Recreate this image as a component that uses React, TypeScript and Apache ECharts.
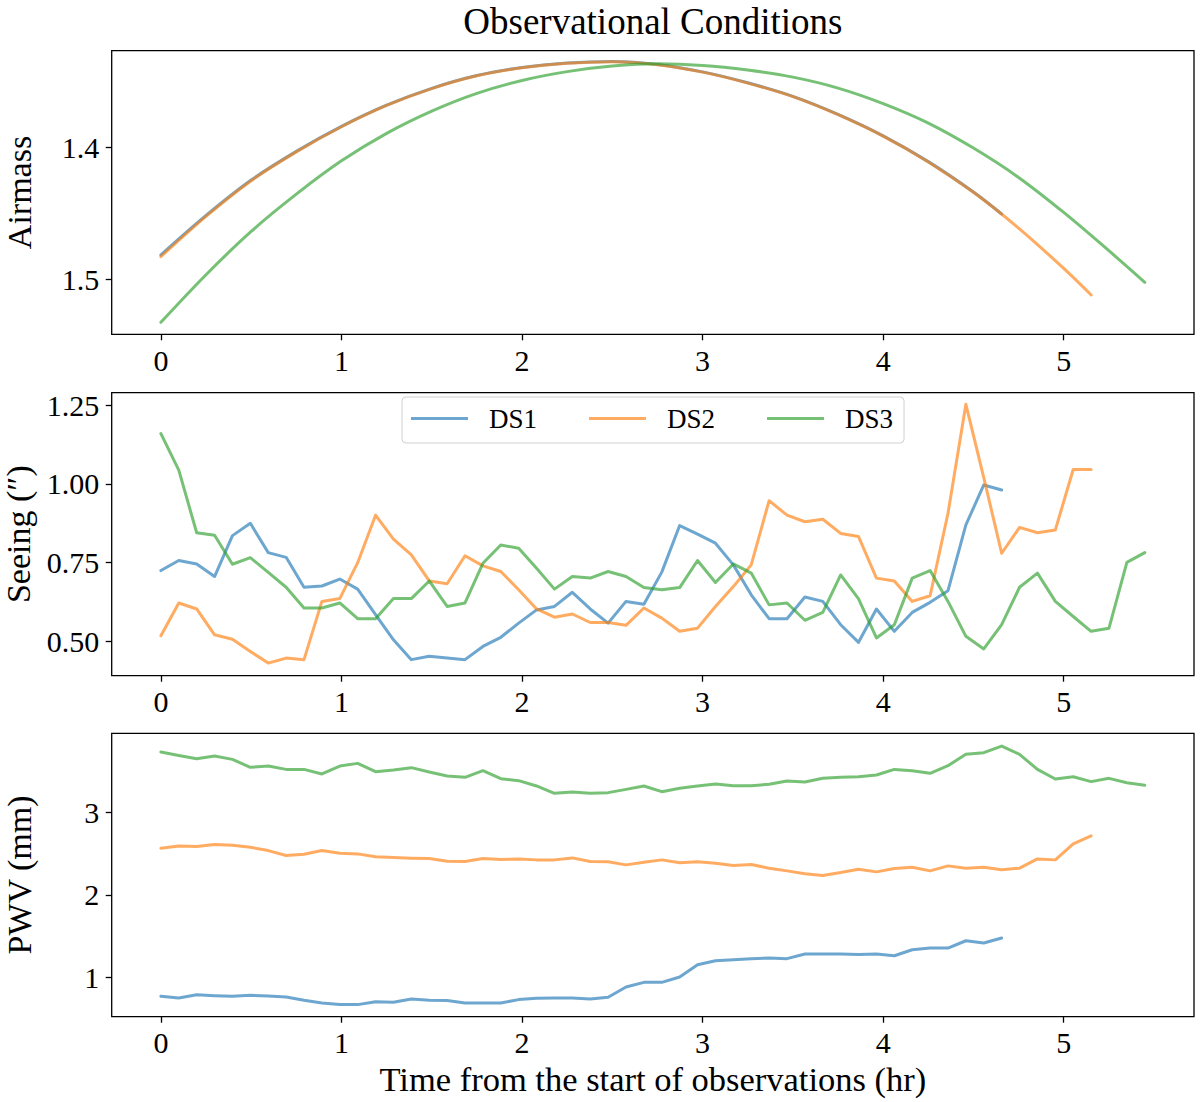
import React, { useEffect, useRef } from "react";
import * as echarts from "echarts";

// ---------- data ----------
const CADENCE_HR = 0.09907; // time between exposures (hr)
const SERIES_NAMES = ["DS1", "DS2", "DS3"];
const TITLE = "Observational Conditions";
const X_LABEL = "Time from the start of observations (hr)";
const Y_LABELS = ["Airmass", "Seeing (\u2033)", "PWV (mm)"];
const X_TICKS = [0, 1, 2, 3, 4, 5];
const AIRMASS_TICKS = [1.4, 1.5];
const SEEING_TICKS = [0.5, 0.75, 1.0, 1.25];
const PWV_TICKS = [1, 2, 3];

const airmassTimesDS1 = [0, 0.25, 0.5, 0.75, 1, 1.25, 1.5, 1.75, 2, 2.25, 2.5, 2.75, 3, 3.25, 3.5, 3.75, 4, 4.25, 4.5, 4.656];
const airmassDS1 = [1.4815, 1.4515, 1.4246, 1.4028, 1.3838, 1.3677, 1.3549, 1.3452, 1.3391, 1.3357, 1.3345, 1.3367, 1.3424, 1.3507, 1.361, 1.3747, 1.391, 1.4106, 1.4337, 1.4504];
const airmassTimesDS2 = [0, 0.25, 0.5, 0.75, 1, 1.25, 1.5, 1.75, 2, 2.25, 2.5, 2.75, 3, 3.25, 3.5, 3.75, 4, 4.25, 4.5, 4.75, 5, 5.152];
const airmassDS2 = [1.4828, 1.4522, 1.4251, 1.4032, 1.3841, 1.3679, 1.3551, 1.3454, 1.3393, 1.3359, 1.3347, 1.3369, 1.3426, 1.3509, 1.3612, 1.3749, 1.3912, 1.4108, 1.4339, 1.4611, 1.4917, 1.5119];
const airmassTimesDS3 = [0, 0.25, 0.5, 0.75, 1, 1.25, 1.5, 1.75, 2, 2.25, 2.5, 2.75, 3, 3.25, 3.5, 3.75, 4, 4.25, 4.5, 4.75, 5, 5.25, 5.449];
const airmassDS3 = [1.5327, 1.4965, 1.4636, 1.4353, 1.41, 1.3891, 1.3722, 1.3587, 1.3489, 1.3422, 1.338, 1.3363, 1.3375, 1.341, 1.3464, 1.3547, 1.3665, 1.3813, 1.4003, 1.4226, 1.4492, 1.4783, 1.5023];

const seeingDS1 = [0.725, 0.757, 0.746, 0.706, 0.836, 0.875, 0.782, 0.767, 0.672, 0.676, 0.698, 0.666, 0.585, 0.505, 0.442, 0.453, 0.447, 0.442, 0.484, 0.513, 0.558, 0.6, 0.611, 0.656, 0.603, 0.558, 0.627, 0.618, 0.72, 0.868, 0.841, 0.812, 0.743, 0.648, 0.572, 0.572, 0.641, 0.627, 0.553, 0.497, 0.603, 0.532, 0.592, 0.624, 0.661, 0.87, 0.997, 0.981];
const seeingDS2 = [0.518, 0.622, 0.603, 0.521, 0.507, 0.468, 0.431, 0.447, 0.442, 0.627, 0.636, 0.75, 0.901, 0.825, 0.775, 0.692, 0.683, 0.772, 0.74, 0.722, 0.664, 0.603, 0.577, 0.587, 0.56, 0.56, 0.551, 0.606, 0.574, 0.532, 0.542, 0.611, 0.674, 0.743, 0.947, 0.901, 0.88, 0.888, 0.843, 0.833, 0.701, 0.692, 0.627, 0.645, 0.907, 1.253, 1.02, 0.78, 0.862, 0.845, 0.854, 1.046, 1.046];
const seeingDS3 = [1.16, 1.044, 0.845, 0.837, 0.745, 0.766, 0.719, 0.672, 0.606, 0.606, 0.622, 0.572, 0.572, 0.636, 0.636, 0.692, 0.611, 0.622, 0.748, 0.806, 0.796, 0.732, 0.666, 0.706, 0.701, 0.722, 0.706, 0.671, 0.664, 0.671, 0.757, 0.687, 0.746, 0.717, 0.616, 0.622, 0.567, 0.592, 0.711, 0.635, 0.511, 0.553, 0.701, 0.725, 0.627, 0.516, 0.476, 0.553, 0.672, 0.717, 0.627, 0.579, 0.532, 0.542, 0.751, 0.782];

const pwvDS1 = [0.765, 0.745, 0.785, 0.773, 0.765, 0.777, 0.769, 0.757, 0.717, 0.684, 0.664, 0.664, 0.7, 0.692, 0.733, 0.717, 0.713, 0.684, 0.684, 0.684, 0.725, 0.741, 0.745, 0.745, 0.733, 0.753, 0.879, 0.935, 0.935, 1.0, 1.15, 1.198, 1.211, 1.223, 1.231, 1.223, 1.279, 1.279, 1.279, 1.275, 1.279, 1.259, 1.332, 1.352, 1.352, 1.441, 1.413, 1.474];
const pwvDS2 = [2.567, 2.595, 2.587, 2.611, 2.603, 2.579, 2.538, 2.478, 2.494, 2.538, 2.506, 2.498, 2.462, 2.453, 2.445, 2.441, 2.409, 2.405, 2.441, 2.429, 2.437, 2.425, 2.425, 2.449, 2.405, 2.401, 2.364, 2.397, 2.425, 2.389, 2.401, 2.385, 2.356, 2.368, 2.324, 2.291, 2.255, 2.235, 2.271, 2.312, 2.279, 2.32, 2.336, 2.291, 2.352, 2.324, 2.336, 2.304, 2.324, 2.437, 2.425, 2.619, 2.717];
const pwvDS3 = [3.737, 3.696, 3.656, 3.688, 3.648, 3.551, 3.567, 3.526, 3.526, 3.47, 3.567, 3.599, 3.498, 3.518, 3.547, 3.494, 3.445, 3.429, 3.51, 3.413, 3.389, 3.324, 3.235, 3.251, 3.235, 3.243, 3.283, 3.324, 3.255, 3.296, 3.324, 3.348, 3.328, 3.328, 3.344, 3.385, 3.372, 3.417, 3.429, 3.437, 3.457, 3.526, 3.51, 3.478, 3.571, 3.709, 3.729, 3.81, 3.709, 3.526, 3.409, 3.437, 3.377, 3.417, 3.364, 3.332];

// ---------- styling ----------
const COLORS = ["rgba(31,119,180,0.65)", "rgba(255,127,14,0.65)", "rgba(44,160,44,0.65)"];
const FONT = "'Liberation Serif', 'Times New Roman', 'DejaVu Serif', serif";
const GRID_LEFT = 111.7;
const GRID_WIDTH = 1082.3;
const GRIDS = [
  { top: 50.7, height: 283.6 },
  { top: 392.7, height: 283.0 },
  { top: 733.3, height: 283.4 },
];
const X_MIN = -0.2725;
const X_MAX = 5.7215;
const Y_RANGES = [
  { min: 1.3263, max: 1.5418, inverse: true, ticks: AIRMASS_TICKS, digits: 1 },
  { min: 0.391, max: 1.29, inverse: false, ticks: SEEING_TICKS, digits: 2 },
  { min: 0.517, max: 3.965, inverse: false, ticks: PWV_TICKS, digits: 0 },
];

const pairs = (t: number[], v: number[]) => v.map((y, i) => [t[i], y]);
const sampled = (v: number[]) => v.map((y, i) => [i * CADENCE_HR, y]);

function buildOption() {
  const panelData = [
    [pairs(airmassTimesDS1, airmassDS1), pairs(airmassTimesDS2, airmassDS2), pairs(airmassTimesDS3, airmassDS3)],
    [sampled(seeingDS1), sampled(seeingDS2), sampled(seeingDS3)],
    [sampled(pwvDS1), sampled(pwvDS2), sampled(pwvDS3)],
  ];

  const tickStyle = { color: "#000", width: 1.3 };

  const grid = GRIDS.map((g) => ({
    left: GRID_LEFT,
    width: GRID_WIDTH,
    top: g.top,
    height: g.height,
    show: true,
    borderColor: "#000",
    borderWidth: 1.3,
    backgroundColor: "transparent",
    containLabel: false,
    outerBoundsMode: "none",
  }));

  const xAxis = GRIDS.map((_, i) => ({
    type: "value",
    gridIndex: i,
    min: X_MIN,
    max: X_MAX,
    position: "bottom",
    axisLine: { show: false, onZero: false },
    splitLine: { show: false },
    axisTick: { show: true, customValues: X_TICKS, length: 6, inside: false, lineStyle: tickStyle },
    axisLabel: {
      show: true,
      customValues: X_TICKS,
      margin: 11,
      fontSize: 30,
      fontFamily: FONT,
      color: "#000",
      formatter: (v: number) => String(v),
    },
    name: i === 2 ? X_LABEL : "",
    nameLocation: "middle",
    nameGap: 45,
    nameTextStyle: { fontSize: 34.5, fontFamily: FONT, color: "#000" },
  }));

  const yAxis = Y_RANGES.map((r, i) => ({
    type: "value",
    gridIndex: i,
    min: r.min,
    max: r.max,
    inverse: r.inverse,
    position: "left",
    axisLine: { show: false, onZero: false },
    splitLine: { show: false },
    axisTick: { show: true, customValues: r.ticks, length: 6, inside: false, lineStyle: tickStyle },
    axisLabel: {
      show: true,
      customValues: r.ticks,
      margin: 12.4,
      fontSize: 30,
      fontFamily: FONT,
      color: "#000",
      formatter: (v: number) => v.toFixed(r.digits),
    },
    name: Y_LABELS[i],
    nameLocation: "middle",
    nameGap: 75,
    nameTextStyle: { fontSize: 34, fontFamily: FONT, color: "#000" },
  }));

  const series: any[] = [];
  panelData.forEach((panel, p) => {
    panel.forEach((data, k) => {
      series.push({
        type: "line",
        name: SERIES_NAMES[k],
        xAxisIndex: p,
        yAxisIndex: p,
        data,
        smooth: p === 0 ? 0.35 : false,
        symbol: "none",
        showSymbol: false,
        silent: true,
        color: COLORS[k],
        itemStyle: { color: COLORS[k] },
        lineStyle: { color: COLORS[k], width: 3, join: "round", cap: "round" },
        emphasis: { disabled: true },
        z: 2 + k,
      });
    });
  });

  return {
    animation: false,
    backgroundColor: "#fff",
    title: {
      text: TITLE,
      left: 652.9,
      textAlign: "center",
      top: 3,
      padding: 0,
      textStyle: { fontSize: 37, lineHeight: 37, fontWeight: "normal", fontFamily: FONT, color: "#000" },
    },
    legend: {
      data: SERIES_NAMES,
      left: 402,
      top: 397,
      orient: "horizontal",
      icon: "rect",
      itemWidth: 57,
      itemHeight: 3,
      itemGap: 52,
      padding: [8, 11, 11, 9],
      backgroundColor: "rgba(255,255,255,0.85)",
      borderColor: "#d0d0d0",
      borderWidth: 1,
      borderRadius: 4,
      selectedMode: false,
      textStyle: { fontSize: 27, fontFamily: FONT, color: "#000", padding: [0, 0, 0, 16] },
    },
    grid,
    xAxis,
    yAxis,
    series,
  };
}

export default function App() {
  const ref = useRef<HTMLDivElement>(null);
  useEffect(() => {
    document.body.style.margin = "0";
    if (!ref.current) return;
    const chart = echarts.init(ref.current, undefined, { renderer: "svg" });
    chart.setOption(buildOption() as any);
    return () => chart.dispose();
  }, []);
  return <div ref={ref} style={{ width: 1200, height: 1102, background: "#fff" }} />;
}
